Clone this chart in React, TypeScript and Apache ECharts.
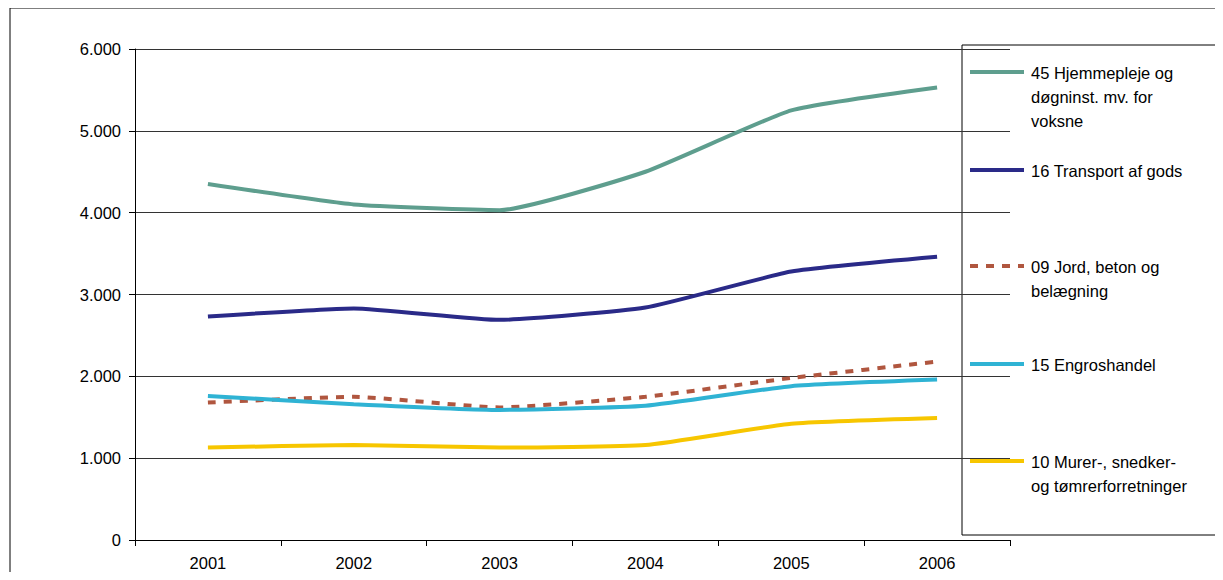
import React, { useEffect, useRef } from "react";
import * as echarts from "echarts";

const years = ["2001", "2002", "2003", "2004", "2005", "2006"];
const s45 = [4350, 4100, 4030, 4500, 5250, 5530];
const s16 = [2730, 2830, 2690, 2840, 3280, 3460];
const s09 = [1680, 1750, 1620, 1750, 1980, 2180];
const s15 = [1760, 1660, 1590, 1640, 1880, 1960];
const s10 = [1130, 1160, 1130, 1160, 1420, 1490];

const series = [
  { name: "45 Hjemmepleje og\ndøgninst. mv. for\nvoksne", data: s45, color: "#5e9e8e", dash: false, ly: 72 },
  { name: "16 Transport af gods", data: s16, color: "#2a2a88", dash: false, ly: 170 },
  { name: "09 Jord, beton og\nbelægning", data: s09, color: "#b0563f", dash: true, ly: 266 },
  { name: "15 Engroshandel", data: s15, color: "#2fb3d4", dash: false, ly: 364 },
  { name: "10 Murer-, snedker-\nog tømrerforretninger", data: s10, color: "#f7c600", dash: false, ly: 461 },
];

const fmt = (v: number) => (v === 0 ? "0" : (v / 1000).toFixed(3));

const App = () => {
  const ref = useRef<HTMLDivElement>(null);

  useEffect(() => {
    if (!ref.current) return;
    const chart = echarts.init(ref.current, undefined, { renderer: "svg" });
    const font = "Liberation Sans, Arial, sans-serif";
    const legend: any[] = [
      { type: "rect", shape: { x: 962, y: 45, width: 256, height: 490 }, style: { fill: "#fff", stroke: "#000", lineWidth: 1 } },
    ];
    series.forEach((s) => {
      legend.push({
        type: "line",
        shape: { x1: 970, y1: s.ly, x2: 1024, y2: s.ly },
        style: { stroke: s.color, lineWidth: 4, lineDash: s.dash ? [8, 8] : null },
      });
      legend.push({
        type: "text",
        x: 1031,
        y: s.ly - 11,
        style: { text: s.name, fill: "#000", font: `16.5px ${font}`, lineHeight: 24 },
      });
    });
    chart.setOption({
      animation: false,
      grid: { left: 135, top: 49, width: 875, height: 491 },
      xAxis: {
        type: "category",
        data: years,
        boundaryGap: true,
        axisLine: { lineStyle: { color: "#000" } },
        axisTick: { show: true, lineStyle: { color: "#000" }, length: 6 },
        axisLabel: { color: "#000", fontSize: 16.5, fontFamily: font, margin: 14 },
      },
      yAxis: {
        type: "value",
        min: 0,
        max: 6000,
        interval: 1000,
        axisLine: { show: true, lineStyle: { color: "#000" } },
        axisTick: { show: true, lineStyle: { color: "#000" }, length: 6 },
        axisLabel: { color: "#000", fontSize: 16.5, fontFamily: font, formatter: fmt, margin: 14 },
        splitLine: { lineStyle: { color: "#333", width: 1 } },
      },
      series: series.map((s) => ({
        type: "line",
        data: s.data,
        smooth: 0.15,
        symbol: "none",
        lineStyle: { color: s.color, width: 4, type: s.dash ? [8, 8] : "solid" },
      })),
      graphic: [
        { type: "rect", shape: { x: 10, y: 8, width: 1212, height: 580 }, style: { fill: "none", stroke: "#000", lineWidth: 1 } },
        ...legend,
      ],
    });
    return () => chart.dispose();
  }, []);

  return <div ref={ref} style={{ width: 1223, height: 580, margin: -8 }} />;
};

export default App;
